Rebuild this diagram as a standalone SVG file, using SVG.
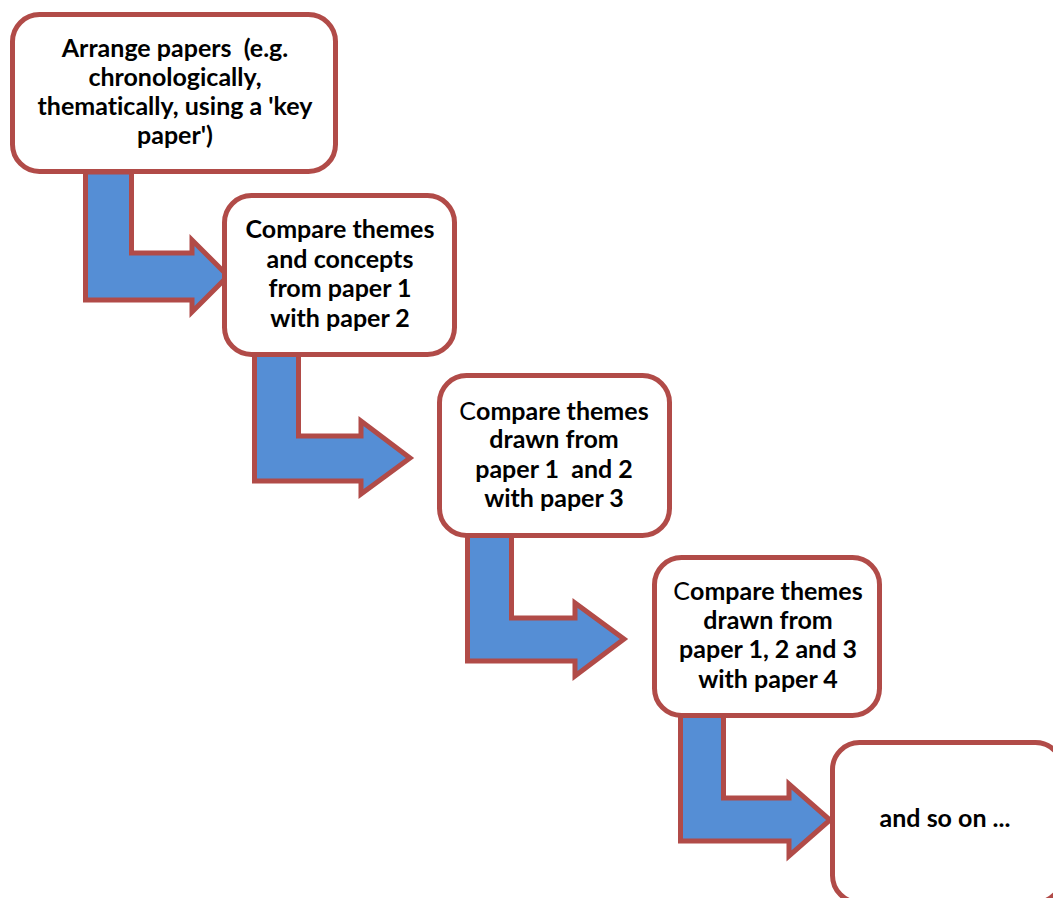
<svg xmlns="http://www.w3.org/2000/svg" width="1053" height="898" viewBox="0 0 1053 898">
<style>
.box{fill:#ffffff;stroke:#B14B48;stroke-width:5}
.arr{fill:#558ED5;stroke:#B14B48;stroke-width:5;stroke-linejoin:miter}
text{font-family:Lato,"Liberation Sans",sans-serif;font-weight:bold;font-size:25px;fill:#000;text-anchor:middle;white-space:pre;font-variant-ligatures:none}
.n{font-weight:normal}
</style>
<rect width="1053" height="898" fill="#ffffff"/>
<g id="connectors">
<path class="arr" d="M85.5,172 L85.5,300 L192,300 L192,312 L228,276 L192,240 L192,253 L131.5,253 L131.5,172 Z"/>
<path class="arr" d="M254.5,354 L254.5,481 L361,481 L361,494 L410,458 L361,421 L361,436 L298.5,436 L298.5,354 Z"/>
<path class="arr" d="M467.5,535 L467.5,661 L575,661 L575,676 L624,639 L575,603 L575,618 L511.5,618 L511.5,535 Z"/>
<path class="arr" d="M680.5,715 L680.5,841 L789,841 L789,856 L830,820 L789,784 L789,798 L723.5,798 L723.5,715 Z"/>
</g>
<g id="node1">
<rect class="box" x="12.5" y="14.5" width="323" height="157" rx="27"/>
<text x="175" y="57" xml:space="preserve">Arrange papers  (e.g.</text>
<text x="175" y="86">chronologically,</text>
<text x="175" y="115">thematically, using a 'key</text>
<text x="175" y="144">paper')</text>
</g>
<g id="node2">
<rect class="box" x="224.5" y="195.5" width="230" height="159" rx="27"/>
<text x="340" y="238">Compare themes</text>
<text x="340" y="268">and concepts</text>
<text x="340" y="297">from paper 1</text>
<text x="340" y="327">with paper 2</text>
</g>
<g id="node3">
<rect class="box" x="439.5" y="375.5" width="230" height="160" rx="27"/>
<text x="554" y="420"><tspan class="n">C</tspan>ompare themes</text>
<text x="554" y="448">drawn from</text>
<text x="554" y="478" xml:space="preserve">paper 1  and 2</text>
<text x="554" y="507">with paper 3</text>
</g>
<g id="node4">
<rect class="box" x="654.5" y="557.5" width="225" height="158" rx="27"/>
<text x="768" y="600"><tspan class="n">C</tspan>ompare themes</text>
<text x="768" y="629">drawn from</text>
<text x="768" y="658">paper 1, 2 and 3</text>
<text x="768" y="688">with paper 4</text>
</g>
<g id="node5">
<rect class="box" x="832.5" y="742.5" width="230" height="160" rx="27"/>
<text x="945" y="827">and so on ...</text>
</g>
</svg>
